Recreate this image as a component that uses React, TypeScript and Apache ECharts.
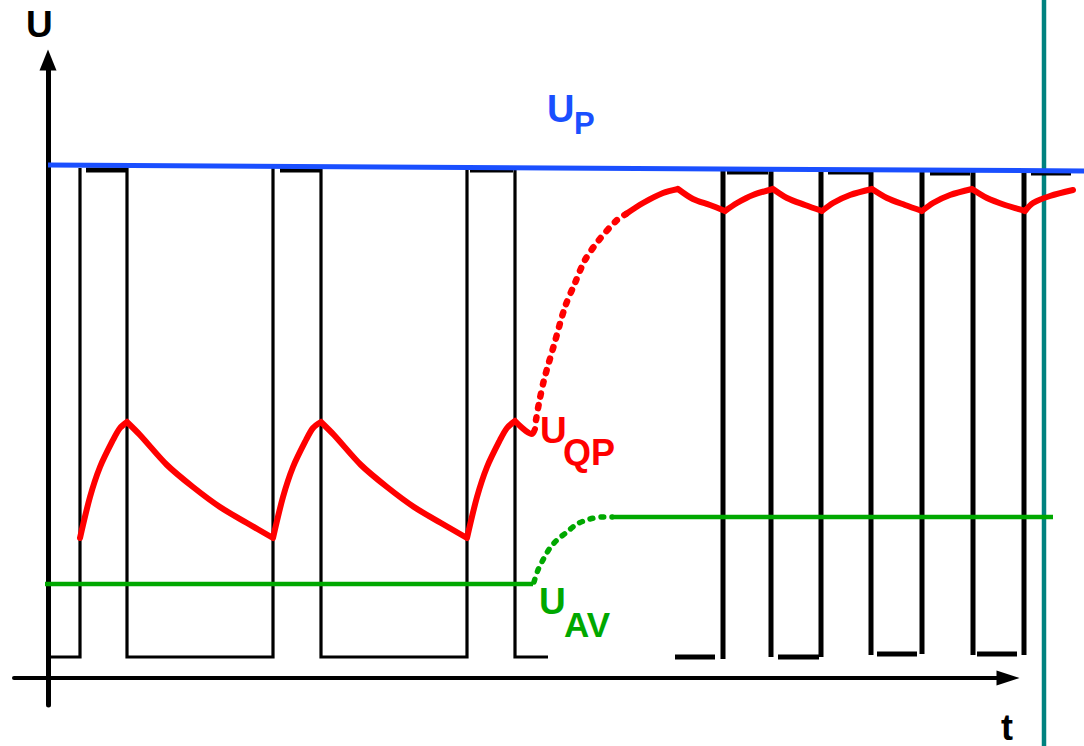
import React, { useEffect, useRef } from "react";
import * as echarts from "echarts";

// Axis ranges (t = time, U = voltage, both in drawing units)
// plotting frame (whole picture)
const T_FRAME_MIN = -48;
const T_FRAME_MAX = 1036;
const U_FRAME_MIN = -68;
const U_FRAME_MAX = 678;
// visible axes with arrows
const T_MIN = -34;
const T_MAX = 960;
const U_MIN = -27;
const U_MAX = 618;

type P = [number, number];

// U_P (peak) line
const upLine: P[] = [[0, 513], [1036, 507]];
// teal marker line
const markerLine: P[] = [[996, 690], [996, -80]];

// pulse train 1 (slow repetition) – polylines
const train1Lines: P[][] = [
  [[0, 21], [32, 21], [32, 510]],
  [[79, 510], [79, 21], [225, 21], [225, 510]],
  [[273, 510], [273, 21], [419, 21], [419, 510]],
  [[467, 510], [467, 21], [500, 21]],
];
// pulse train 1 – top bars
const train1Tops: P[][] = [
  [[38, 508], [79, 508]],
  [[232, 508], [272, 508]],
  [[422, 508], [465, 508]],
];
// pulse train 2 (fast repetition) – segments
const train2Segs: P[][] = [
  [[627, 21], [667, 21]],
  [[675, 19], [675, 508]],
  [[679, 506], [720, 506]],
  [[723, 508], [723, 21]],
  [[730, 21], [771, 21]],
  [[773, 21], [773, 508]],
  [[780, 506], [821, 506]],
  [[823, 508], [823, 23]],
  [[829, 24], [869, 24]],
  [[874, 24], [874, 507]],
  [[882, 505], [922, 505]],
  [[925, 507], [925, 23]],
  [[929, 24], [969, 24]],
  [[976, 23], [976, 507]],
  [[983, 505], [1023, 505]],
];

// U_QP (quasi-peak) – solid pieces
const uqpSolid: P[][] = [
  [[32, 140], [42, 181], [52, 211], [65, 238], [72, 250], [79, 256]],
  [[79, 256], [92, 243], [119, 213], [145, 191], [172, 171], [199, 155], [225, 140]],
  [[225, 140], [235, 181], [245, 211], [258, 238], [265, 250], [273, 256]],
  [[273, 256], [286, 243], [313, 213], [339, 191], [366, 171], [393, 155], [419, 140]],
  [[419, 140], [429, 181], [439, 211], [452, 238], [459, 250], [467, 257]],
  [[467, 257], [484, 244], [487, 249]],
  [[578, 464], [595, 475], [615, 485], [630, 489]],
  [[630, 489], [645, 479], [662, 473], [677, 467]],
  [[677, 467], [689, 475], [705, 483], [725, 489]],
  [[725, 489], [739, 480], [757, 473], [774, 467]],
  [[774, 467], [785, 475], [802, 483], [824, 489]],
  [[824, 489], [839, 480], [857, 473], [874, 467]],
  [[874, 467], [885, 475], [902, 483], [924, 489]],
  [[924, 489], [939, 480], [957, 473], [977, 467]],
  [[977, 467], [985, 475], [1002, 482], [1025, 488]],
];
// U_QP – dotted transition
const uqpDotted: P[] = [
  [488, 258], [491, 275], [496, 298], [506, 333], [517, 371], [527, 395],
  [537, 418], [551, 438], [569, 458], [578, 464],
];

// U_AV (average)
const uavSolid: P[][] = [
  [[-3, 94], [485, 94]],
  [[564, 161], [1005, 161]],
];
const uavDotted: P[] = [
  [486, 96], [490, 108], [496, 120], [502, 130], [509, 138], [519, 146],
  [529, 154], [542, 159], [555, 161], [564, 161],
];

const BREAK: any = [null, null];
const joinSegs = (segs: P[][]) => {
  const out: any[] = [];
  segs.forEach((s, i) => {
    if (i > 0) out.push(BREAK);
    s.forEach((p) => out.push(p));
  });
  return out;
};

const BLACK = "#000000";
const BLUE = "#1a4fff";
const RED = "#ff0000";
const GREEN = "#00a800";
const TEAL = "#00827f";
const FONT = "'Liberation Sans', Arial, sans-serif";

const lineSeries = (data: any[], color: string, width: number, extra: any = {}) => ({
  type: "line",
  xAxisIndex: 0,
  yAxisIndex: 0,
  data,
  symbol: "none",
  showSymbol: false,
  clip: false,
  silent: true,
  connectNulls: false,
  lineStyle: { color, width, cap: "butt", join: "miter", ...(extra.lineStyle || {}) },
  smooth: extra.smooth ?? false,
  z: extra.z ?? 2,
});

const hiddenAxisParts = {
  axisTick: { show: false },
  axisLabel: { show: false },
  splitLine: { show: false },
};

export default function App() {
  const ref = useRef<HTMLDivElement>(null);
  useEffect(() => {
    if (!ref.current) return;
    const chart = echarts.init(ref.current, undefined, { renderer: "svg" });
    const txt = (text: string, x: number, y: number, size: number, color: string, va = "middle") => ({
      type: "text",
      x,
      y,
      z: 100,
      style: {
        text,
        fill: color,
        font: `bold ${size}px ${FONT}`,
        textAlign: "left",
        textVerticalAlign: va,
        verticalAlign: va,
      },
    });
    chart.setOption({
      animation: false,
      backgroundColor: "#ffffff",
      grid: [
        { left: 0, right: 0, top: 0, bottom: 0, outerBoundsMode: "none", containLabel: false },
        { left: 14, right: 76, top: 60, bottom: 41, outerBoundsMode: "none", containLabel: false },
      ],
      xAxis: [
        {
          type: "value",
          gridIndex: 0,
          min: T_FRAME_MIN,
          max: T_FRAME_MAX,
          axisLine: { show: false },
          ...hiddenAxisParts,
        },
        {
          type: "value",
          gridIndex: 1,
          min: T_MIN,
          max: T_MAX,
          axisLine: {
            show: true,
            onZero: true,
            symbol: ["none", "triangle"],
            symbolSize: [15, 23],
            lineStyle: { color: BLACK, width: 4 },
          },
          ...hiddenAxisParts,
        },
      ],
      yAxis: [
        {
          type: "value",
          gridIndex: 0,
          min: U_FRAME_MIN,
          max: U_FRAME_MAX,
          axisLine: { show: false },
          ...hiddenAxisParts,
        },
        {
          type: "value",
          gridIndex: 1,
          min: U_MIN,
          max: U_MAX,
          axisLine: {
            show: true,
            onZero: true,
            symbol: ["none", "triangle"],
            symbolSize: [17, 21],
            lineStyle: { color: BLACK, width: 5 },
          },
          ...hiddenAxisParts,
        },
      ],
      series: [
        lineSeries(markerLine, TEAL, 4.5, { z: 1 }),
        lineSeries(joinSegs(train1Lines), BLACK, 3.2),
        lineSeries(joinSegs(train1Tops), BLACK, 5),
        lineSeries(joinSegs(train2Segs), BLACK, 5),
        lineSeries(upLine, BLUE, 5, { z: 3 }),
        lineSeries(joinSegs(uavSolid), GREEN, 4.5, { z: 4 }),
        lineSeries(uavDotted, GREEN, 5.5, {
          z: 4,
          smooth: 0.3,
          lineStyle: { type: [3, 8], cap: "round" },
        }),
        lineSeries(joinSegs(uqpSolid), RED, 6, {
          z: 5,
          smooth: 0.3,
          lineStyle: { cap: "round", join: "round" },
        }),
        lineSeries(uqpDotted, RED, 6.5, {
          z: 5,
          smooth: 0.3,
          lineStyle: { type: [3, 9], cap: "round" },
        }),
      ],
      graphic: [
        txt("U", 26, 24, 37, BLACK),
        txt("t", 1001, 745, 36, BLACK, "bottom"),
        txt("U", 547, 109, 38, BLUE),
        txt("P", 574, 123, 31, BLUE),
        txt("U", 540, 430, 37, RED),
        txt("QP", 563, 452, 36, RED),
        txt("U", 539, 601, 37, GREEN),
        txt("AV", 564, 624, 35, GREEN),
      ],
    });
    return () => chart.dispose();
  }, []);
  return (
    <div
      ref={ref}
      style={{ position: "absolute", left: 0, top: 0, width: 1084, height: 746, background: "#fff" }}
    />
  );
}
